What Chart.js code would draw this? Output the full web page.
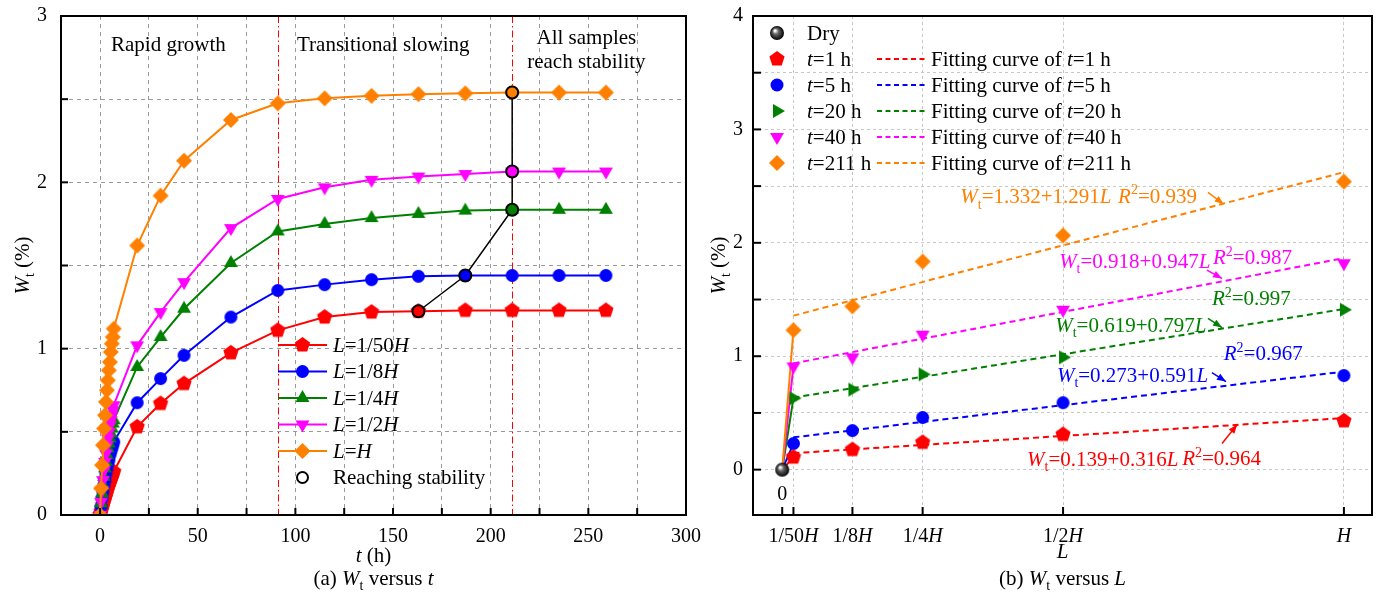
<!DOCTYPE html>
<html>
<head>
<meta charset="utf-8">
<script src="https://cdn.jsdelivr.net/npm/chart.js@4.4.0/dist/chart.umd.min.js"></script>
<style>
  html, body { margin: 0; padding: 0; background: #fff; }
  #wrap { position: relative; width: 1380px; height: 595px; overflow: hidden; }
  .panel { position: absolute; top: 0; height: 595px; }
</style>
</head>
<body>
<div id="wrap">
  <div class="panel" style="left:0;width:720px"><canvas id="chartA"></canvas></div>
  <div class="panel" style="left:690px;width:690px"><canvas id="chartB"></canvas></div>
</div>
<script>
// --- Panel (a): Wt versus t ---
const tHours = [0, 0.5, 1, 1.5, 2, 2.5, 3, 3.5, 4, 4.5, 5, 5.5, 6, 6.5, 7,
                19, 31, 43, 67, 91, 115, 139, 163, 187, 211, 235, 259];
const wL50 = [0, 0.02, 0.04, 0.06, 0.08, 0.10, 0.12, 0.14, 0.16, 0.18, 0.20, 0.21, 0.23, 0.25, 0.26,
              0.53, 0.67, 0.79, 0.975, 1.11, 1.19, 1.22, 1.225, 1.23, 1.23, 1.23, 1.23];
const wL8  = [0, 0.05, 0.10, 0.14, 0.18, 0.21, 0.25, 0.28, 0.31, 0.33, 0.36, 0.38, 0.40, 0.42, 0.44,
              0.675, 0.82, 0.96, 1.19, 1.35, 1.385, 1.415, 1.435, 1.44, 1.44, 1.44, 1.44];
const wL4  = [0, 0.07, 0.13, 0.18, 0.23, 0.28, 0.32, 0.36, 0.40, 0.43, 0.46, 0.49, 0.52, 0.55, 0.57,
              0.89, 1.07, 1.24, 1.515, 1.705, 1.75, 1.785, 1.81, 1.83, 1.835, 1.835, 1.835];
const wL2  = [0, 0.08, 0.15, 0.21, 0.27, 0.32, 0.37, 0.42, 0.46, 0.50, 0.54, 0.57, 0.60, 0.63, 0.66,
              1.02, 1.22, 1.40, 1.725, 1.90, 1.97, 2.015, 2.035, 2.05, 2.065, 2.065, 2.065];
const wLH  = [0, 0.16, 0.30, 0.42, 0.52, 0.60, 0.68, 0.75, 0.81, 0.87, 0.92, 0.98, 1.03, 1.07, 1.12,
              1.62, 1.92, 2.13, 2.375, 2.475, 2.505, 2.52, 2.53, 2.535, 2.54, 2.54, 2.54];
const labelsA = ['*L*=1/50*H*', '*L*=1/8*H*', '*L*=1/4*H*', '*L*=1/2*H*', '*L*=*H*'];
const stableTimes = [163, 187, 211, 211, 211];   // momento en que cada muestra se estabiliza
const phaseBounds = [91, 211];
const phaseNames = ['Rapid growth', 'Transitional slowing', 'All samples', 'reach stability'];
const tTicks = [0, 25, 50, 75, 100, 125, 150, 175, 200, 225, 250, 275, 300];
const wTicksA = [0, 0.5, 1, 1.5, 2, 2.5, 3];

// --- Panel (b): Wt versus L ---
const lengthPos = [0.02, 0.125, 0.25, 0.5, 1];          // L / H
const lengthLabels = ['1/50*H*', '1/8*H*', '1/4*H*', '1/2*H*', '*H*'];
const dryPoint = [0, 0];
const timeLabels = ['*t*=1 h', '*t*=5 h', '*t*=20 h', '*t*=40 h', '*t*=211 h'];
const w1h   = [0.11, 0.177, 0.24, 0.31, 0.43];
const w5h   = [0.23, 0.344, 0.46, 0.59, 0.83];
const w20h  = [0.63, 0.706, 0.84, 0.99, 1.41];
const w40h  = [0.91, 0.99, 1.19, 1.41, 1.82];
const w211h = [1.23, 1.44, 1.835, 2.065, 2.54];
const fitIntercept = [0.139, 0.273, 0.619, 0.918, 1.332];
const fitSlope     = [0.316, 0.591, 0.797, 0.947, 1.291];
const fitR2        = [0.964, 0.967, 0.997, 0.987, 0.939];
const wTicksB = [0, 0.5, 1, 1.5, 2, 2.5, 3, 3.5, 4];

const colors = ['#ff0000', '#0000ff', '#008000', '#ff00ff', '#ff8000'];
const SERIF = "'Liberation Serif', 'Times New Roman', serif";
const FS = 21;        // texto
const FS_TICK = 20;   // etiquetas de ejes

Chart.defaults.font.family = SERIF;
Chart.defaults.font.size = FS_TICK;
Chart.defaults.color = '#000';

// --- Helpers de texto ---
// '*' alterna cursiva, '_x' subíndice, '^x' superíndice
function parseRich(str) {
    const segs = [];
    let italic = false, buf = '';
    const flush = () => { if (buf) segs.push({ t: buf, it: italic }); buf = ''; };
    for (let i = 0; i < str.length; i++) {
        const c = str[i];
        if (c === '*') { flush(); italic = !italic; }
        else if (c === '_' || c === '^') { flush(); segs.push({ t: str[++i], it: false, sub: c === '_', sup: c === '^' }); }
        else buf += c;
    }
    flush();
    return segs;
}

function drawRich(ctx, str, x, y, color = '#000', align = 'left', size = FS) {
    const segs = parseRich(str);
    const font = s => (s.it ? 'italic ' : '') + ((s.sub || s.sup) ? Math.round(size * 0.68) : size) + 'px ' + SERIF;
    let total = 0;
    segs.forEach(s => { ctx.font = font(s); s.w = ctx.measureText(s.t).width; total += s.w; });
    let cx = align === 'center' ? x - total / 2 : x;
    const base = y + size * 0.33;
    ctx.save();
    ctx.fillStyle = color;
    ctx.textBaseline = 'alphabetic';
    ctx.textAlign = 'left';
    segs.forEach(s => {
        ctx.font = font(s);
        const dy = s.sub ? size * 0.25 : (s.sup ? -size * 0.4 : 0);
        ctx.fillText(s.t, cx, base + dy);
        cx += s.w;
    });
    ctx.restore();
}

// --- Helpers de marcadores ---
function shapePath(g, shape, x, y, r) {
    g.beginPath();
    if (shape === 'circle') {
        g.arc(x, y, r, 0, Math.PI * 2);
        return;
    }
    const spec = {
        pentagon: [5, -Math.PI / 2], diamond: [4, -Math.PI / 2],
        triUp: [3, -Math.PI / 2], triDown: [3, Math.PI / 2], triRight: [3, 0]
    }[shape];
    for (let k = 0; k < spec[0]; k++) {
        const a = spec[1] + k * 2 * Math.PI / spec[0];
        const px = x + r * Math.cos(a), py = y + r * Math.sin(a);
        if (k) g.lineTo(px, py); else g.moveTo(px, py);
    }
    g.closePath();
}

function drawSphere(g, x, y, r) {
    const grad = g.createRadialGradient(x - r * 0.3, y - r * 0.35, r * 0.1, x, y, r);
    grad.addColorStop(0, '#ffffff');
    grad.addColorStop(0.35, '#666666');
    grad.addColorStop(1, '#000000');
    g.beginPath();
    g.arc(x, y, r, 0, Math.PI * 2);
    g.fillStyle = grad;
    g.fill();
}

function drawMarker(g, shape, x, y, r, color) {
    if (shape === 'sphere') { drawSphere(g, x, y, r); return; }
    shapePath(g, shape, x, y, r);
    g.fillStyle = color;
    g.fill();
}

function markerCanvas(shape, color, r) {
    const c = document.createElement('canvas');
    const s = Math.ceil(r * 2 + 2);
    c.width = c.height = s;
    drawMarker(c.getContext('2d'), shape, s / 2, s / 2, r, color);
    return c;
}

function drawArrow(ctx, x1, y1, x2, y2, color) {
    const ang = Math.atan2(y2 - y1, x2 - x1);
    const hl = 9, hw = 3.5;
    ctx.save();
    ctx.strokeStyle = color;
    ctx.fillStyle = color;
    ctx.lineWidth = 1.5;
    ctx.beginPath();
    ctx.moveTo(x1, y1);
    ctx.lineTo(x2, y2);
    ctx.stroke();
    ctx.beginPath();
    ctx.moveTo(x2, y2);
    ctx.lineTo(x2 - hl * Math.cos(ang) + hw * Math.sin(ang), y2 - hl * Math.sin(ang) - hw * Math.cos(ang));
    ctx.lineTo(x2 - hl * Math.cos(ang) - hw * Math.sin(ang), y2 - hl * Math.sin(ang) + hw * Math.cos(ang));
    ctx.closePath();
    ctx.fill();
    ctx.restore();
}

function line(ctx, x1, y1, x2, y2) {
    ctx.beginPath();
    ctx.moveTo(x1, y1);
    ctx.lineTo(x2, y2);
    ctx.stroke();
}

// ================= Panel (a) =================
const shapesA = ['pentagon', 'circle', 'triUp', 'triDown', 'diamond'];
const radiusA = { pentagon: 8, circle: 6.5, triUp: 8, triDown: 8, diamond: 8 };
const valuesA = [wL50, wL8, wL4, wL2, wLH];

const datasetsA = valuesA.map((vals, i) => ({
    label: labelsA[i],
    data: tHours.map((t, k) => ({ x: t, y: vals[k] })),
    borderColor: colors[i],
    backgroundColor: colors[i],
    borderWidth: 2,
    pointStyle: markerCanvas(shapesA[i], colors[i], radiusA[shapesA[i]]),
    pointRadius: 6,
    tension: 0,
    order: 5 - i
}));

datasetsA.push({
    label: 'Reaching stability',
    data: stableTimes.map((t, i) => ({ x: t, y: valuesA[i][tHours.indexOf(t)] })),
    borderColor: '#000',
    borderWidth: 1.5,
    pointStyle: 'circle',
    pointRadius: 6,
    pointBackgroundColor: colors,
    pointBorderColor: '#000',
    pointBorderWidth: 2,
    tension: 0,
    order: 0
});

const panelAExtras = {
    id: 'panelAExtras',
    beforeDatasetsDraw(chart) {
        const { ctx, chartArea: a, scales: { x } } = chart;
        ctx.save();
        ctx.strokeStyle = '#ff0000';
        ctx.lineWidth = 1;
        ctx.setLineDash([7, 3, 1.5, 3]);
        phaseBounds.forEach(t => {
            const px = Math.round(x.getPixelForValue(t)) + 0.5;
            line(ctx, px, a.top, px, a.bottom);
        });
        ctx.restore();
    },
    afterDraw(chart) {
        const { ctx, chartArea: a, scales: { x, y } } = chart;
        ctx.save();
        // marco
        ctx.strokeStyle = '#000';
        ctx.lineWidth = 2;
        ctx.strokeRect(a.left, a.top, a.right - a.left, a.bottom - a.top);
        // ticks hacia dentro
        tTicks.forEach(v => { const px = x.getPixelForValue(v); line(ctx, px, a.bottom, px, a.bottom - 7); });
        wTicksA.forEach(v => { const py = y.getPixelForValue(v); line(ctx, a.left, py, a.left + 7, py); });

        // etiquetas de fases
        drawRich(ctx, phaseNames[0], x.getPixelForValue(35), y.getPixelForValue(2.83), '#000', 'center');
        drawRich(ctx, phaseNames[1], x.getPixelForValue(145), y.getPixelForValue(2.83), '#000', 'center');
        drawRich(ctx, phaseNames[2], x.getPixelForValue(249), y.getPixelForValue(2.875), '#000', 'center');
        drawRich(ctx, phaseNames[3], x.getPixelForValue(249), y.getPixelForValue(2.73), '#000', 'center');

        // leyenda
        const lx = a.left + 217, rowH = 26.5, ly0 = 345;
        labelsA.forEach((lab, i) => {
            const ly = ly0 + i * rowH;
            ctx.strokeStyle = colors[i];
            ctx.lineWidth = 2;
            line(ctx, lx, ly, lx + 49, ly);
            drawMarker(ctx, shapesA[i], lx + 24.5, ly, radiusA[shapesA[i]], colors[i]);
            drawRich(ctx, lab, lx + 55, ly);
        });
        const sy = ly0 + 5 * rowH;
        ctx.beginPath();
        ctx.arc(lx + 24.5, sy, 5.5, 0, Math.PI * 2);
        ctx.fillStyle = '#fff';
        ctx.fill();
        ctx.strokeStyle = '#000';
        ctx.lineWidth = 2;
        ctx.stroke();
        drawRich(ctx, 'Reaching stability', lx + 55, sy);

        // títulos
        const cx = (a.left + a.right) / 2;
        drawRich(ctx, '*t* (h)', cx, 555, '#000', 'center');
        drawRich(ctx, '(a) *W*_t versus *t*', cx, 578, '#000', 'center');
        ctx.translate(22, (a.top + a.bottom) / 2);
        ctx.rotate(-Math.PI / 2);
        drawRich(ctx, '*W*_t (%)', 0, 0, '#000', 'center');
        ctx.restore();
    }
};

new Chart(document.getElementById('chartA'), {
    type: 'line',
    data: { datasets: datasetsA },
    options: {
        responsive: true,
        maintainAspectRatio: false,
        animation: false,
        devicePixelRatio: 1,
        layout: { padding: { top: 16, right: 34, left: 0, bottom: 0 } },
        plugins: { legend: { display: false }, tooltip: { enabled: false } },
        scales: {
            x: {
                type: 'linear',
                min: -20,
                max: 300,
                afterBuildTicks: s => { s.ticks = tTicks.map(v => ({ value: v })); },
                ticks: {
                    autoSkip: false,
                    maxRotation: 0,
                    padding: 10,
                    font: { size: FS_TICK },
                    callback: v => (v % 50 === 0 ? v : '')
                },
                grid: { color: '#9a9a9a', lineWidth: 1, drawTicks: false },
                border: { display: false, dash: [4, 4] },
                afterFit: s => { s.height = 80; s.paddingLeft = 0; s.paddingRight = 0; }
            },
            y: {
                type: 'linear',
                min: 0,
                max: 3,
                afterBuildTicks: s => { s.ticks = wTicksA.map(v => ({ value: v })); },
                ticks: {
                    autoSkip: false,
                    padding: 14,
                    font: { size: FS_TICK },
                    callback: v => (Number.isInteger(v) ? v : '')
                },
                grid: { color: '#9a9a9a', lineWidth: 1, drawTicks: false },
                border: { display: false, dash: [4, 4] },
                afterFit: s => { s.width = 61; s.paddingTop = 0; s.paddingBottom = 0; }
            }
        }
    },
    plugins: [panelAExtras]
});

// ================= Panel (b) =================
const shapesB = ['pentagon', 'circle', 'triRight', 'triDown', 'diamond'];
const radiusB = { pentagon: 8, circle: 6.5, triRight: 8, triDown: 8, diamond: 8 };
const valuesB = [w1h, w5h, w20h, w40h, w211h];
const fitFrom = lengthPos[0], fitTo = lengthPos[lengthPos.length - 1];

const datasetsB = [{
    label: 'Dry',
    data: [{ x: dryPoint[0], y: dryPoint[1] }],
    pointStyle: markerCanvas('sphere', '#000', 7),
    pointRadius: 7,
    showLine: false,
    order: 0
}];

valuesB.forEach((vals, i) => {
    datasetsB.push({
        label: timeLabels[i],
        data: lengthPos.map((l, k) => ({ x: l, y: vals[k] })),
        pointStyle: markerCanvas(shapesB[i], colors[i], radiusB[shapesB[i]]),
        pointRadius: 6,
        showLine: false,
        order: 1
    });
    // tramo desde el estado seco hasta L=1/50H
    datasetsB.push({
        label: timeLabels[i] + ' inicio',
        data: [{ x: dryPoint[0], y: dryPoint[1] }, { x: lengthPos[0], y: vals[0] }],
        borderColor: colors[i],
        borderWidth: 2,
        pointRadius: 0,
        showLine: true,
        order: 10 - i
    });
    // recta de ajuste
    datasetsB.push({
        label: 'Fitting curve of ' + timeLabels[i],
        data: [fitFrom, fitTo].map(l => ({ x: l, y: fitIntercept[i] + fitSlope[i] * l })),
        borderColor: colors[i],
        borderWidth: 2,
        borderDash: [6, 4],
        pointRadius: 0,
        showLine: true,
        order: 20
    });
});

// posiciones (L, W) de las ecuaciones y flechas
const eqAnchors = [
    { eq: [0.436, 0.095], r2: [0.712, 0.100], arrow: [0.783, 0.23, 0.81, 0.397] },
    { eq: [0.489, 0.835], r2: [0.786, 1.024], arrow: [0.765, 0.856, 0.79, 0.777] },
    { eq: [0.486, 1.275], r2: [0.765, 1.510], arrow: [0.758, 1.333, 0.783, 1.253] },
    { eq: [0.493, 1.840], r2: [0.767, 1.875], arrow: [0.756, 1.76, 0.783, 1.686] },
    { eq: [0.317, 2.410], r2: [0.598, 2.415], arrow: [0.758, 2.445, 0.786, 2.34] }
];

const panelBExtras = {
    id: 'panelBExtras',
    afterDraw(chart) {
        const { ctx, chartArea: a, scales: { x, y } } = chart;
        ctx.save();
        ctx.strokeStyle = '#000';
        ctx.lineWidth = 2;
        ctx.strokeRect(a.left, a.top, a.right - a.left, a.bottom - a.top);
        [dryPoint[0]].concat(lengthPos).forEach(v => {
            const px = x.getPixelForValue(v);
            line(ctx, px, a.bottom, px, a.bottom - 8);
        });
        wTicksB.forEach(v => { const py = y.getPixelForValue(v); line(ctx, a.left, py, a.left + 8, py); });

        // etiquetas del eje x
        lengthPos.forEach((v, i) => drawRich(ctx, lengthLabels[i], x.getPixelForValue(v), a.bottom + 20, '#000', 'center', FS_TICK));
        drawRich(ctx, '0', x.getPixelForValue(0), a.bottom - 22, '#000', 'center', FS_TICK);
        const cx = (a.left + a.right) / 2;
        drawRich(ctx, '*L*', cx, 551, '#000', 'center');
        drawRich(ctx, '(b) *W*_t versus *L*', cx, 578, '#000', 'center');

        // leyenda
        const lx = a.left + 24, rowH = 26, ly0 = 33;
        drawMarker(ctx, 'sphere', lx, ly0, 7, '#000');
        drawRich(ctx, 'Dry', lx + 30, ly0);
        timeLabels.forEach((lab, i) => {
            const ly = ly0 + (i + 1) * rowH;
            drawMarker(ctx, shapesB[i], lx, ly, radiusB[shapesB[i]], colors[i]);
            drawRich(ctx, lab, lx + 30, ly);
            ctx.save();
            ctx.strokeStyle = colors[i];
            ctx.lineWidth = 2;
            ctx.setLineDash([5, 3.5]);
            line(ctx, lx + 100, ly, lx + 151, ly);
            ctx.restore();
            drawRich(ctx, 'Fitting curve of ' + lab, lx + 154, ly);
        });

        // ecuaciones de ajuste
        eqAnchors.forEach((p, i) => {
            const eq = '*W*_t=' + fitIntercept[i].toFixed(3) + '+' + fitSlope[i].toFixed(3) + '*L*';
            const r2 = '*R*^2=' + fitR2[i].toFixed(3);
            drawRich(ctx, eq, x.getPixelForValue(p.eq[0]), y.getPixelForValue(p.eq[1]), colors[i]);
            drawRich(ctx, r2, x.getPixelForValue(p.r2[0]), y.getPixelForValue(p.r2[1]), colors[i]);
            drawArrow(ctx, x.getPixelForValue(p.arrow[0]), y.getPixelForValue(p.arrow[1]),
                      x.getPixelForValue(p.arrow[2]), y.getPixelForValue(p.arrow[3]), colors[i]);
        });

        ctx.translate(28, (a.top + a.bottom) / 2);
        ctx.rotate(-Math.PI / 2);
        drawRich(ctx, '*W*_t (%)', 0, 0, '#000', 'center');
        ctx.restore();
    }
};

new Chart(document.getElementById('chartB'), {
    type: 'scatter',
    data: { datasets: datasetsB },
    options: {
        responsive: true,
        maintainAspectRatio: false,
        animation: false,
        devicePixelRatio: 1,
        layout: { padding: { top: 16, right: 8, left: 0, bottom: 0 } },
        plugins: { legend: { display: false }, tooltip: { enabled: false } },
        scales: {
            x: {
                type: 'linear',
                min: -0.052,
                max: 1.05,
                afterBuildTicks: s => { s.ticks = lengthPos.map(v => ({ value: v })); },
                ticks: { display: false },
                grid: { color: '#c8c8c8', lineWidth: 1, drawTicks: false },
                border: { display: false, dash: [3, 3] },
                afterFit: s => { s.height = 80; s.paddingLeft = 0; s.paddingRight = 0; }
            },
            y: {
                type: 'linear',
                min: -0.4,
                max: 4,
                afterBuildTicks: s => { s.ticks = wTicksB.map(v => ({ value: v })); },
                ticks: {
                    autoSkip: false,
                    padding: 10,
                    font: { size: FS_TICK },
                    callback: v => (Number.isInteger(v) ? v : '')
                },
                grid: { color: '#c8c8c8', lineWidth: 1, drawTicks: false },
                border: { display: false, dash: [3, 3] },
                afterFit: s => { s.width = 63; s.paddingTop = 0; s.paddingBottom = 0; }
            }
        }
    },
    plugins: [panelBExtras]
});
</script>
</body>
</html>
